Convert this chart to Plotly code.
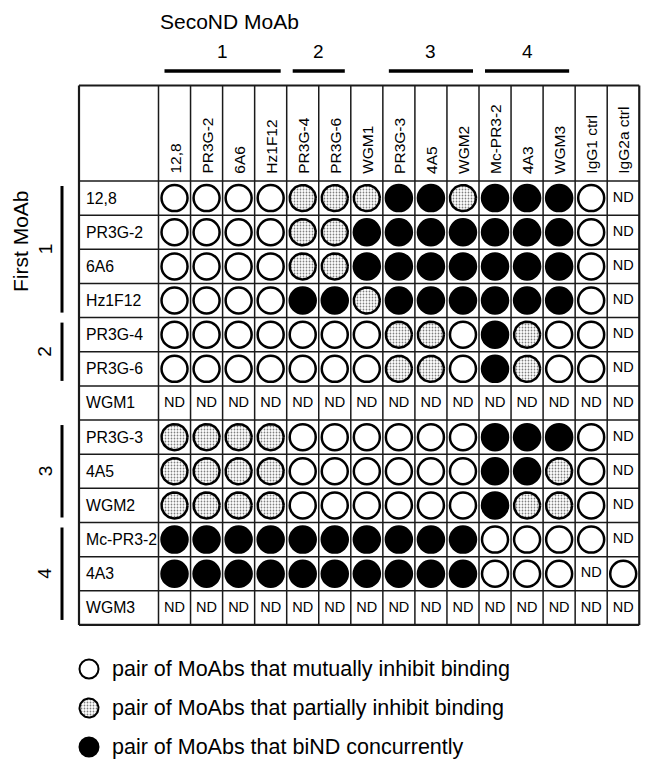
import numpy as np
import plotly.graph_objects as go

# ---------------- data ----------------
second_moab = ["12,8", "PR3G-2", "6A6", "Hz1F12", "PR3G-4", "PR3G-6", "WGM1",
               "PR3G-3", "4A5", "WGM2", "Mc-PR3-2", "4A3", "WGM3",
               "IgG1 ctrl", "IgG2a ctrl"]
first_moab = ["12,8", "PR3G-2", "6A6", "Hz1F12", "PR3G-4", "PR3G-6", "WGM1",
              "PR3G-3", "4A5", "WGM2", "Mc-PR3-2", "4A3", "WGM3"]

# O = mutually inhibit, P = partially inhibit, B = bind concurrently, N = ND
results = [
    "OOOOPPPBBPBBBON",
    "OOOOPPBBBBBBBON",
    "OOOOPPBBBBBBBON",
    "OOOOBBPBBBBBBON",
    "OOOOOOOPPOBPOON",
    "OOOOOOOPPOBPOON",
    "NNNNNNNNNNNNNNN",
    "PPPPOOOOOOBBBON",
    "PPPPOOOOOOBBPON",
    "PPPPOOOOOOBPPON",
    "BBBBBBBBBBOOOON",
    "BBBBBBBBBBOOONO",
    "NNNNNNNNNNNNNNN",
]

group_names = ["1", "2", "3", "4"]
col_group_span = [(0, 3), (4, 5), (7, 9), (10, 12)]
row_group_span = [(0, 3), (4, 5), (7, 9), (10, 12)]

legend_labels = ["pair of MoAbs that mutually inhibit binding",
                 "pair of MoAbs that partially inhibit binding",
                 "pair of MoAbs that biND concurrently"]
legend_codes = ["O", "P", "B"]

# ---------------- layout constants (screen pixels) ----------------
OFF = 8                    # page body margin
W, H = 652 - OFF, 769 - 2 * OFF
X0, Y0 = 158.5, 181.0      # top-left of the data cells
CW, RH = 32.05, 34.15      # cell width / height
TABLE_LEFT, TABLE_TOP = 79.0, 85.5
FONT = "Liberation Sans, Arial, Helvetica, sans-serif"


def xd(px):
    return (px - X0) / CW


def yd(py):
    return (py - Y0) / RH


ncol, nrow = len(second_moab), len(first_moab)

fig = go.Figure()

# ---------------- grid ----------------
shapes = []
grid_col = "#1a1a1a"
for xv in [xd(TABLE_LEFT)] + list(range(ncol + 1)):
    outer = xv in (xd(TABLE_LEFT), ncol)
    shapes.append(dict(type="line", xref="x", yref="y", x0=xv, x1=xv,
                       y0=yd(TABLE_TOP), y1=nrow,
                       line=dict(color=grid_col, width=2.2 if outer else 1.5)))
for yv in [yd(TABLE_TOP)] + list(range(nrow + 1)):
    outer = yv in (yd(TABLE_TOP), nrow)
    shapes.append(dict(type="line", xref="x", yref="y", x0=xd(TABLE_LEFT), x1=ncol,
                       y0=yv, y1=yv,
                       line=dict(color=grid_col, width=2.2 if outer else 1.5)))

# group bars (top)
for (a, b) in col_group_span:
    shapes.append(dict(type="line", xref="x", yref="y",
                       x0=a + 6 / CW, x1=b + 1 - 6 / CW, y0=yd(71), y1=yd(71),
                       line=dict(color="black", width=3.5)))
# group bars (left)
for (a, b) in row_group_span:
    shapes.append(dict(type="line", xref="x", yref="y",
                       x0=xd(62), x1=xd(62), y0=a + 5 / RH, y1=b + 1 - 5 / RH,
                       line=dict(color="black", width=3)))

# ---------------- cells ----------------
R = 13.0  # circle radius (stroke centre), px
t = np.linspace(0, 2 * np.pi, 61)


def cells(code):
    xs, ys = [], []
    for j, row in enumerate(results):
        for i, c in enumerate(row):
            if c == code:
                xs.append(i + 0.5)
                ys.append(j + 0.5)
    return xs, ys


def polygon(xs, ys, r):
    px, py = [], []
    for x, y in zip(xs, ys):
        px += list(x + (r / CW) * np.cos(t)) + [None]
        py += list(y + (r / RH) * np.sin(t)) + [None]
    return px, py


STIPPLE = dict(shape=".", size=3, solidity=0.28, fgcolor="black", bgcolor="white")

ox, oy = cells("O")
fig.add_trace(go.Scatter(x=ox, y=oy, mode="markers", hoverinfo="skip",
                         marker=dict(symbol="circle", size=2 * R, color="white",
                                     line=dict(color="black", width=2.5))))
bx, by = cells("B")
fig.add_trace(go.Scatter(x=bx, y=by, mode="markers", hoverinfo="skip",
                         marker=dict(symbol="circle", size=2 * R, color="black",
                                     line=dict(color="black", width=2.5))))
pxs, pys = cells("P")
ppx, ppy = polygon(pxs, pys, R)
fig.add_trace(go.Scatter(x=ppx, y=ppy, mode="lines", fill="toself", hoverinfo="skip",
                         line=dict(color="black", width=2.5),
                         fillcolor="white", fillpattern=STIPPLE))
nx, ny = cells("N")
fig.add_trace(go.Scatter(x=nx, y=ny, mode="text", text=["ND"] * len(nx),
                         hoverinfo="skip",
                         textfont=dict(family=FONT, size=14.5, color="black")))

# ---------------- labels ----------------
ann = []
for i, name in enumerate(second_moab):
    ann.append(dict(x=i + 0.5, y=yd(176), xref="x", yref="y", text=name,
                    textangle=-90, xanchor="center", yanchor="bottom",
                    showarrow=False, font=dict(family=FONT, size=15.5, color="black")))
for j, name in enumerate(first_moab):
    ann.append(dict(x=xd(TABLE_LEFT + 5), y=j + 0.5, xref="x", yref="y", text=name,
                    xanchor="left", yanchor="middle", showarrow=False,
                    font=dict(family=FONT, size=15.8, color="black")))
for g, (a, b) in zip(group_names, col_group_span):
    ann.append(dict(x=(a + b + 1) / 2, y=yd(51), xref="x", yref="y", text=g,
                    xanchor="center", yanchor="middle", showarrow=False,
                    font=dict(family=FONT, size=19, color="black")))
for g, (a, b) in zip(group_names, row_group_span):
    ann.append(dict(x=xd(45), y=(a + b + 1) / 2, xref="x", yref="y", text=g,
                    textangle=-90, xanchor="center", yanchor="middle", showarrow=False,
                    font=dict(family=FONT, size=19, color="black")))
ann.append(dict(x=xd(158), y=yd(21), xref="x", yref="y", text="SecoND MoAb",
                xanchor="left", yanchor="middle", showarrow=False,
                font=dict(family=FONT, size=21, color="black")))
ann.append(dict(x=xd(20), y=yd(241), xref="x", yref="y", text="First MoAb",
                textangle=-90, xanchor="center", yanchor="middle", showarrow=False,
                font=dict(family=FONT, size=21, color="black")))

# ---------------- legend (manual) ----------------
LR = 9.5
leg_y = [669, 708, 747]
for code, label, ly in zip(legend_codes, legend_labels, leg_y):
    lx = xd(89)
    if code == "P":
        qx, qy = polygon([lx], [yd(ly)], LR)
        fig.add_trace(go.Scatter(x=qx, y=qy, mode="lines", fill="toself",
                                 hoverinfo="skip", line=dict(color="black", width=2),
                                 fillcolor="white", fillpattern=STIPPLE))
    else:
        fig.add_trace(go.Scatter(x=[lx], y=[yd(ly)], mode="markers", hoverinfo="skip",
                                 marker=dict(symbol="circle", size=2 * LR,
                                             color="white" if code == "O" else "black",
                                             line=dict(color="black", width=2))))
    ann.append(dict(x=xd(110), y=yd(ly), xref="x", yref="y", text=label,
                    xanchor="left", yanchor="middle", showarrow=False,
                    font=dict(family=FONT, size=21.5, color="black")))

fig.update_layout(
    width=W, height=H, margin=dict(l=0, r=0, t=0, b=0),
    paper_bgcolor="white", plot_bgcolor="white", showlegend=False,
    xaxis=dict(range=[xd(OFF), xd(OFF + W)], visible=False, fixedrange=True),
    yaxis=dict(range=[yd(OFF + H), yd(OFF)], visible=False, fixedrange=True),
    shapes=shapes, annotations=ann,
)

fig.write_html("out.html")
